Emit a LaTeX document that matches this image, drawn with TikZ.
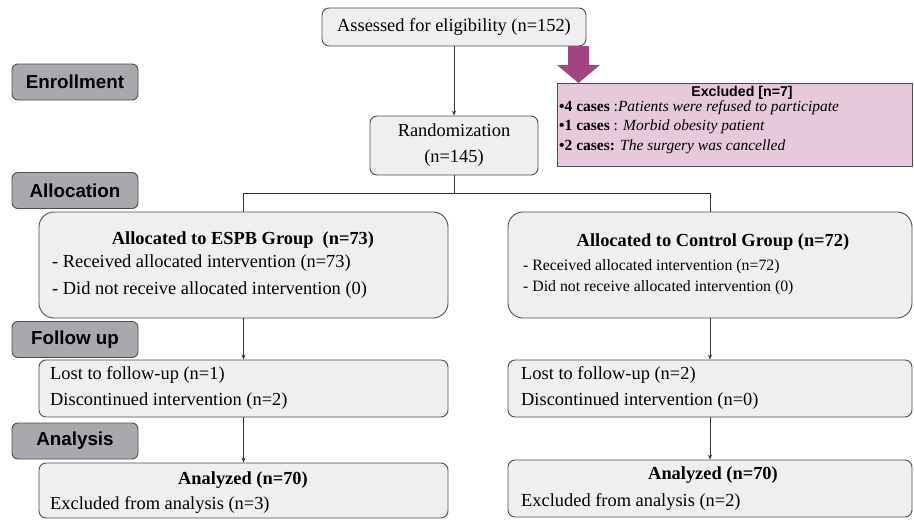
\documentclass[tikz,border=0pt]{standalone}
\usepackage{fontspec}
\setmainfont{Liberation Serif}
\newfontfamily\lsans{Liberation Sans}
\usetikzlibrary{arrows.meta}
\definecolor{boxgray}{HTML}{EEEFF0}
\definecolor{labgray}{HTML}{A7A9AC}
\definecolor{exclpink}{HTML}{E6CADB}
\definecolor{exclpurple}{HTML}{A2447F}
\definecolor{edge}{HTML}{4D4D4D}
\begin{document}
\begin{tikzpicture}[x=1pt,y=-1pt,
  box/.style={draw=edge, fill=boxgray, line width=0.9pt, rounded corners=7pt, inner sep=0pt},
  bigbox/.style={box, rounded corners=15pt},
  labbox/.style={draw=edge, fill=labgray, line width=0.9pt, rounded corners=6pt, inner sep=0pt,
    minimum width=126pt, minimum height=36pt, font=\lsans\bfseries\fontsize{18.8}{21}\selectfont},
  txt/.style={inner sep=0pt, anchor=west, font=\fontsize{18.4}{21}\selectfont},
  txts/.style={inner sep=0pt, anchor=west, font=\fontsize{15.8}{18}\selectfont},
  ttl/.style={inner sep=0pt, font=\bfseries\fontsize{18.4}{21}\selectfont},
  extxt/.style={inner sep=0pt, anchor=west, font=\fontsize{15.5}{18}\selectfont},
  conn/.style={draw=black!80, line width=0.8pt},
  arr/.style={conn, -{Stealth[length=5pt,width=4pt]}}]
\useasboundingbox (0,0) rectangle (914,520);
\fill[white] (0,0) rectangle (914,520);

% top boxes
\node[box, minimum width=264pt, minimum height=38pt, font=\fontsize{18.4}{21}\selectfont] (assess) at (454,27) {Assessed for eligibility (n=152)};
\node[box, minimum width=168pt, minimum height=59pt, align=center, font=\fontsize{18.4}{26}\selectfont] (rand) at (454,145.5) {Randomization\\(n=145)};

% excluded
\node[draw=edge, fill=exclpink, line width=0.9pt, minimum width=355pt, minimum height=83pt, inner sep=0pt] (excl) at (734.5,124.5) {};
\node[inner sep=0pt, font=\lsans\bfseries\fontsize{14.2}{16}\selectfont] (exclt) at (742,93) {Excluded [n=7]};
\node[extxt] (ex1) at (559,108) {\textbf{•4 cases} :\textit{Patients were refused to participate}};
\node[extxt] (ex2) at (559,127) {\textbf{•1 cases} : \textit{Morbid obesity patient}};
\node[extxt] (ex3) at (559,147) {\textbf{•2 cases:} \textit{The surgery was cancelled}};
\fill[exclpurple] (568,46) -- (589,46) -- (589,65) -- (600,65) -- (578.5,83) -- (557,65) -- (568,65) -- cycle;

% stage labels
\node[labbox] (enrol) at (75,82) {Enrollment};
\node[labbox] (alloc) at (75,190.5) {Allocation};
\node[labbox] (follow) at (75,339.5) {Follow up};
\node[labbox] (anal) at (75,441) {Analysis};

% allocation boxes
\node[bigbox, minimum width=409pt, minimum height=106pt] (lalloc) at (243.5,265) {};
\node[ttl] (lallt) at (243,240) {Allocated to ESPB Group\ \ (n=73)};
\node[txt] (lall1) at (52,263) {- Received allocated intervention (n=73)};
\node[txt] (lall2) at (52,290) {- Did not receive allocated intervention (0)};

\node[bigbox, minimum width=404pt, minimum height=106pt] (ralloc) at (710,265) {};
\node[ttl] (rallt) at (713,242) {Allocated to Control Group (n=72)};
\node[txts] (rall1) at (523,267) {- Received allocated intervention (n=72)};
\node[txts] (rall2) at (523,288) {- Did not receive allocated intervention (0)};

% follow-up boxes
\node[box, minimum width=409pt, minimum height=57pt] (lfol) at (243.5,388.5) {};
\node[txt] (lfol1) at (50,375) {Lost to follow-up (n=1)};
\node[txt] (lfol2) at (50,401) {Discontinued intervention (n=2)};

\node[box, minimum width=404pt, minimum height=57pt] (rfol) at (710,388.5) {};
\node[txt] (rfol1) at (521,375) {Lost to follow-up (n=2)};
\node[txt] (rfol2) at (521,401) {Discontinued intervention (n=0)};

% analysis boxes
\node[box, minimum width=409pt, minimum height=55pt] (lana) at (243.5,490.5) {};
\node[ttl] (lanat) at (243,480) {Analyzed (n=70)};
\node[txt] (lana1) at (50,505) {Excluded from analysis (n=3)};

\node[box, minimum width=404pt, minimum height=57pt] (rana) at (710,488.5) {};
\node[ttl] (ranat) at (713,475) {Analyzed (n=70)};
\node[txt] (rana1) at (521,502) {Excluded from analysis (n=2)};

% connectors
\coordinate (split) at (454,193);
\coordinate (sl) at (243.5,193);
\coordinate (sr) at (710,193);
\draw[arr] (assess) -- (rand);
\draw[conn] (rand) -- (split);
\draw[conn] (sl) -- (sr);
\draw[conn] (sl) -- (lalloc);
\draw[conn] (sr) -- (ralloc);
\draw[arr] (lalloc) -- (lfol);
\draw[arr] (ralloc) -- (rfol);
\draw[arr] (lfol) -- (lana);
\draw[arr] (rfol) -- (rana);
\end{tikzpicture}
\end{document}
